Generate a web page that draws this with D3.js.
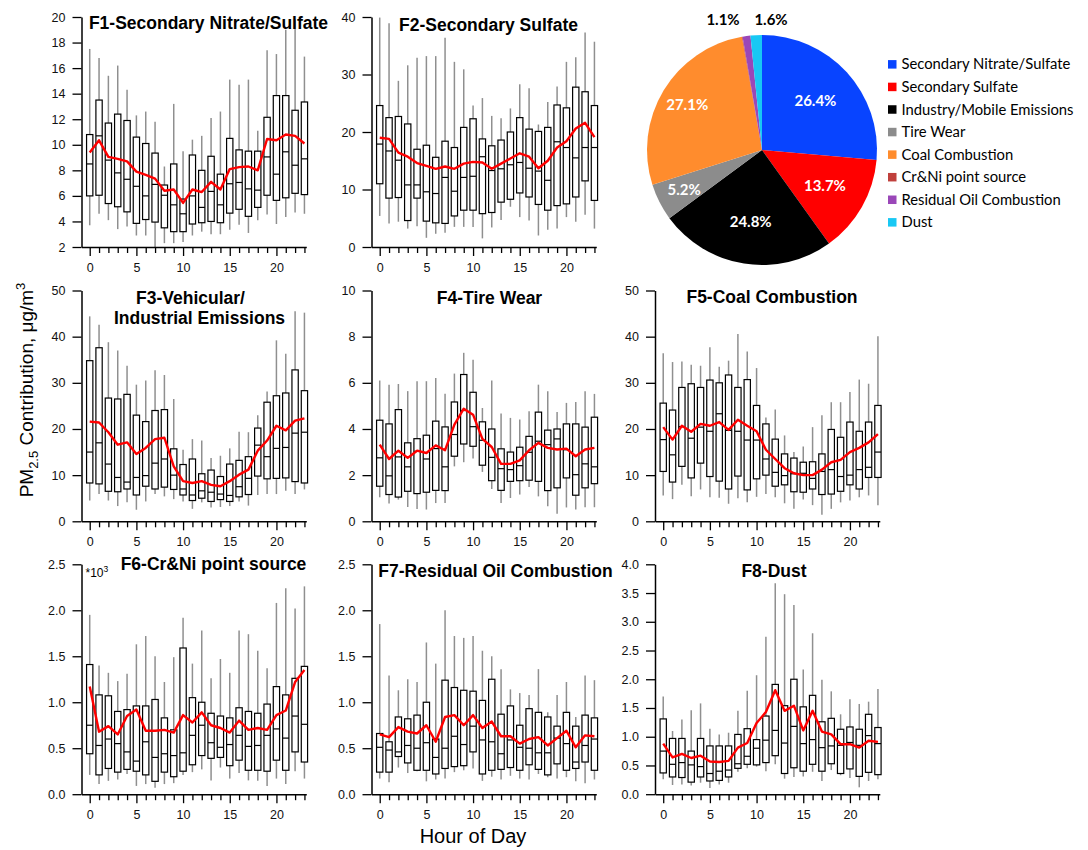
<!DOCTYPE html>
<html>
<head>
<meta charset="utf-8">
<script src="https://cdn.jsdelivr.net/npm/d3@7"></script>
<style>
  body { margin: 0; background: #fff; }
  svg { display: block; font-family: "Liberation Sans", Arial, sans-serif; }
</style>
</head>
<body>
<svg id="chart" width="1088" height="850"></svg>
<script>
// ---- data ----
const hours = [0,1,2,3,4,5,6,7,8,9,10,11,12,13,14,15,16,17,18,19,20,21,22,23];

// F1 Secondary Nitrate/Sulfate
const f1Low  = [3.7,4.6,4.1,3.4,3.6,2.9,2.9,2.0,2.3,2.3,2.4,2.9,3.2,3.0,3.0,3.35,3.75,3.1,4.1,4.55,3.8,4.35,4.7,4.6];
const f1Q1   = [6.0,6.05,5.4,5.15,4.75,3.85,4.15,3.95,3.5,3.2,3.2,3.8,3.9,4.0,3.9,4.65,4.95,4.4,5.1,6.05,5.65,5.85,6.2,6.1];
const f1Med  = [8.5,10.7,8.8,7.8,7.3,6.75,6.0,6.9,6.05,5.3,4.6,6.0,5.1,6.35,5.3,6.95,7.05,6.55,6.45,9.05,7.7,9.45,8.4,8.9];
const f1Q3   = [10.8,13.5,11.7,12.4,11.9,10.6,10.1,9.35,6.85,8.5,5.75,9.2,8.0,9.1,7.7,10.5,9.6,9.5,9.5,12.15,13.85,13.85,12.7,13.35];
const f1High = [17.5,16.8,15.4,16.2,14.3,12.3,12.6,11.8,8.3,13.2,9.5,10.4,10.7,12.1,12.6,15.1,14.7,15.1,11.1,17.4,17.1,19.0,19.8,16.9];
const f1Mean = [9.4,10.35,9.05,8.9,8.7,7.9,7.65,7.35,6.4,6.5,5.45,6.5,6.3,7.1,6.5,8.1,8.25,8.3,8.0,10.45,10.35,10.8,10.7,10.1];

// F2 Secondary Sulfate
const f2Low  = [5.4,4.1,4.4,3.2,3.6,1.6,2.3,2.5,3.5,3.5,3.5,1.5,3.4,4.7,7.0,5.2,4.6,2.0,3.0,3.2,5.2,4.4,5.6,3.2];
const f2Q1   = [11.0,8.5,8.6,4.6,8.5,4.5,4.2,4.1,5.4,6.4,6.4,5.8,6.0,7.8,8.3,9.4,8.7,7.4,6.4,7.2,7.5,8.7,11.5,8.1];
const f2Med  = [17.9,16.7,15.1,10.8,10.8,9.6,9.3,12.1,9.7,12.1,12.3,15.7,13.3,13.6,14.3,14.7,13.7,13.2,11.6,18.3,17.3,15.5,17.3,17.3];
const f2Q3   = [24.6,22.5,22.7,21.4,17.0,17.7,15.6,18.4,17.3,20.8,22.3,18.8,17.6,18.6,20.0,22.5,20.5,20.1,20.8,24.7,24.2,27.8,27.0,24.6];
const f2High = [39.9,38.9,28.9,31.6,32.9,33.2,33.2,36.4,32.2,30.9,24.6,25.9,22.8,22.4,24.1,28.3,27.6,21.3,25.2,27.9,32.2,33.0,37.3,35.7];
const f2Mean = [19.0,18.8,16.4,15.7,14.6,14.1,13.6,14.0,13.6,14.5,14.8,14.7,13.6,14.5,15.4,16.3,15.7,13.7,15.0,17.3,18.4,20.6,21.6,19.1];

// F3 Vehicular/Industrial Emissions
const f3Low  = [4.5,5.9,4.5,3.3,4.1,2.5,4.3,5.9,5.4,4.8,4.3,2.7,4.1,3.0,3.1,3.3,4.3,3.4,5.7,5.9,5.9,6.6,5.9,6.9];
const f3Q1   = [8.3,8.1,6.5,6.4,7.0,5.7,7.6,7.0,7.4,6.9,5.7,4.5,5.0,4.3,4.7,4.3,5.3,5.8,9.8,9.2,9.3,9.4,8.6,8.3];
const f3Med  = [15.0,17.0,12.4,9.5,8.5,9.5,9.9,12.6,13.5,10.0,7.0,5.7,6.6,6.3,5.9,5.6,7.5,9.3,16.5,14.0,15.8,16.0,19.1,19.3];
const f3Q3   = [34.8,37.6,26.7,26.5,27.5,23.0,21.6,24.0,24.2,15.7,12.3,13.5,10.3,11.1,9.7,12.4,13.2,14.0,20.2,25.8,27.2,27.8,32.8,28.3];
const f3High = [44.4,42.6,38.8,37.0,33.7,29.6,30.5,32.7,31.7,26.5,15.5,17.8,17.5,13.7,14.2,15.8,19.4,19.3,23.0,28.1,39.2,36.3,45.5,45.2];
const f3Mean = [21.6,21.4,19.3,16.6,17.1,14.6,15.9,17.8,18.1,11.9,8.7,8.3,8.7,7.9,7.6,8.7,10.1,11.2,15.3,17.5,20.7,19.7,21.8,22.3];

// F4 Tire Wear
const f4Low  = [1.04,0.77,0.94,0.62,0.53,0.51,0.79,0.79,2.38,2.56,2.72,2.14,1.4,0.79,1.01,1.16,1.49,1.08,0.65,0.33,0.6,0.51,0.61,0.61];
const f4Q1   = [1.52,1.16,1.05,1.3,1.2,1.26,1.34,1.33,2.82,3.35,3.25,2.43,1.76,1.34,1.73,1.76,1.78,1.73,1.33,1.45,1.88,1.13,1.45,1.63];
const f4Med  = [2.75,1.97,2.79,2.36,3.03,2.7,3.15,2.36,3.76,4.8,4.1,3.51,2.77,2.28,2.24,2.41,2.99,3.47,3.32,3.57,3.1,2.02,2.49,2.36];
const f4Q3   = [4.38,4.22,4.84,3.4,3.58,3.73,4.34,4.09,5.17,6.36,5.59,4.31,4.0,3.14,3.0,3.21,3.68,4.73,3.95,4.0,4.22,4.22,4.08,4.51];
const f4High = [6.1,5.92,5.95,5.64,6.07,6.07,6.21,5.53,6.4,7.3,7.0,4.91,6.1,4.67,4.48,4.41,4.77,5.92,5.64,4.74,5.13,5.17,5.64,5.52];
const f4Mean = [3.32,2.7,3.06,2.75,3.06,2.96,3.29,3.08,4.19,4.88,4.62,3.57,3.22,2.49,2.49,2.64,3.08,3.4,3.18,3.11,3.15,2.82,3.11,3.18];

// F5 Coal Combustion
const f5Low  = [5.6,4.8,7.9,5.4,6.9,5.2,5.1,3.8,5.0,4.1,5.3,5.9,5.2,3.9,2.7,4.7,3.5,1.4,2.7,4.1,4.5,5.2,5.6,3.5];
const f5Q1   = [10.8,8.5,11.9,9.4,12.6,9.7,8.7,7.0,9.8,6.8,9.2,10.0,7.6,7.9,6.4,6.3,7.0,5.8,5.9,6.5,7.9,7.0,9.5,9.5];
const f5Med  = [17.7,14.4,20.5,18.0,20.4,19.5,23.3,19.7,19.5,17.6,17.6,13.5,10.6,9.9,10.3,10.4,9.3,10.8,11.2,9.7,10.0,11.2,11.7,15.0];
const f5Q3   = [25.6,24.1,29.0,29.8,29.0,30.6,30.0,31.7,29.0,30.7,25.1,21.1,17.8,14.6,13.7,12.8,12.9,14.6,19.9,18.2,21.5,19.5,21.5,25.1];
const f5High = [36.4,34.5,34.6,33.9,33.7,37.7,33.5,34.8,40.6,36.8,33.2,22.5,24.2,18.6,15.0,16.2,20.4,23.0,25.8,25.8,28.0,30.7,29.8,40.1];
const f5Mean = [20.4,17.7,20.7,19.4,21.1,20.7,21.5,19.8,22.0,20.7,19.5,15.5,13.5,11.5,10.4,10.0,10.0,11.2,12.8,13.3,15.0,15.9,17.1,18.9];

// F6 Cr&Ni point source (*10^3)
const f6Low  = [0.21,0.11,0.145,0.16,0.22,0.09,0.11,0.07,0.11,0.12,0.21,0.24,0.27,0.15,0.29,0.17,0.23,0.15,0.145,0.09,0.17,0.11,0.25,0.17];
const f6Q1   = [0.44,0.21,0.28,0.24,0.27,0.25,0.21,0.14,0.24,0.19,0.25,0.32,0.42,0.39,0.40,0.31,0.37,0.26,0.26,0.25,0.37,0.26,0.46,0.35];
const f6Med  = [0.75,0.53,0.6,0.55,0.46,0.36,0.57,0.40,0.44,0.42,0.45,0.64,0.75,0.56,0.51,0.54,0.64,0.52,0.53,0.64,0.71,0.61,0.85,0.76];
const f6Q3   = [1.41,1.08,1.07,0.90,0.92,0.96,0.96,1.03,0.83,0.70,1.59,1.05,1.00,0.88,0.85,0.83,0.94,0.90,0.88,0.98,1.17,1.08,1.26,1.39];
const f6High = [1.95,1.40,1.32,1.23,1.31,1.63,1.72,1.50,1.22,1.49,1.92,1.42,1.78,1.26,1.47,1.32,1.78,1.74,1.56,1.37,2.08,2.24,2.02,2.26];
const f6Mean = [1.17,0.68,0.74,0.65,0.85,0.92,0.69,0.69,0.70,0.67,0.86,0.78,0.89,0.75,0.72,0.67,0.80,0.70,0.72,0.70,0.86,0.91,1.22,1.35];

// F7 Residual Oil Combustion
const f7Low  = [0.17,0.13,0.29,0.23,0.25,0.14,0.16,0.17,0.24,0.26,0.28,0.145,0.19,0.16,0.20,0.17,0.16,0.22,0.185,0.17,0.185,0.14,0.12,0.16];
const f7Q1   = [0.24,0.24,0.41,0.34,0.26,0.26,0.22,0.28,0.30,0.31,0.46,0.22,0.26,0.27,0.29,0.26,0.32,0.27,0.21,0.33,0.26,0.28,0.35,0.26];
const f7Med  = [0.51,0.48,0.46,0.53,0.50,0.56,0.40,0.50,0.63,0.54,0.74,0.59,0.57,0.44,0.59,0.51,0.50,0.45,0.45,0.61,0.55,0.35,0.53,0.60];
const f7Q3   = [0.66,0.57,0.84,0.82,0.86,1.00,0.60,1.24,1.16,1.13,1.12,1.02,1.25,0.87,0.96,0.75,0.93,0.89,0.84,0.74,0.89,0.74,0.86,0.83];
const f7High = [1.85,1.29,1.13,1.25,1.22,1.65,1.42,2.0,1.72,1.70,1.72,1.56,1.50,1.36,1.14,1.10,1.08,1.36,0.89,1.08,1.22,0.84,1.29,1.24];
const f7Mean = [0.65,0.62,0.73,0.68,0.66,0.75,0.57,0.84,0.86,0.75,0.86,0.72,0.79,0.63,0.63,0.55,0.60,0.62,0.53,0.61,0.69,0.51,0.64,0.63];

// F8 Dust
const f8Low  = [0.26,0.16,0.17,0.15,0.20,0.11,0.17,0.20,0.39,0.45,0.48,0.40,0.52,0.27,0.30,0.31,0.39,0.23,0.42,0.33,0.28,0.12,0.23,0.26];
const f8Q1   = [0.37,0.30,0.29,0.21,0.30,0.23,0.24,0.30,0.45,0.52,0.51,0.55,0.67,0.36,0.46,0.40,0.52,0.40,0.53,0.36,0.44,0.31,0.38,0.34];
const f8Med  = [0.75,0.52,0.55,0.51,0.48,0.36,0.40,0.42,0.53,0.66,0.80,0.94,1.11,0.89,1.18,0.88,0.95,0.81,0.84,0.85,0.90,0.85,1.02,0.88];
const f8Q3   = [1.31,0.97,0.97,0.75,0.97,0.84,0.84,0.84,1.04,1.14,0.95,1.36,1.91,1.54,2.0,1.52,1.72,1.26,1.32,1.13,1.17,1.13,1.39,1.16];
const f8High = [1.70,1.10,1.30,1.46,1.58,1.14,1.04,1.07,1.45,1.80,2.07,2.74,3.67,3.48,3.29,2.17,2.80,1.99,1.79,1.39,1.65,1.57,1.61,1.83];
const f8Mean = [0.88,0.64,0.70,0.63,0.67,0.57,0.56,0.58,0.81,0.89,1.24,1.43,1.81,1.45,1.54,1.11,1.45,1.09,1.04,0.87,0.87,0.81,0.93,0.91];

// pie
const sourceNames  = ["Secondary Nitrate/Sulfate", "Secondary Sulfate", "Industry/Mobile Emissions", "Tire Wear",
                      "Coal Combustion", "Cr&Ni point source", "Residual Oil Combustion", "Dust"];
const sourceShares = [26.4, 13.7, 24.8, 5.2, 27.1, 0.1, 1.1, 1.6];
const sourceColors = ["#0844ff", "#ff0000", "#000000", "#8c8c8c", "#ff8c2d", "#c0403c", "#9a47b8", "#18c8f4"];

// ---- layout ----
const svg = d3.select("#chart");
const colX = [81.5, 371.5, 655];
const rowY = [[17, 247], [290.5, 521.3], [564.3, 794.2]];
const plotW = 224.8;

const panels = [
  { title: ["F1-Secondary Nitrate/Sulfate"], tx: [127], ty: [29], col: 0, row: 0,
    low: f1Low, q1: f1Q1, med: f1Med, q3: f1Q3, high: f1High, mean: f1Mean,
    domain: [2, 20], ticks: [2,4,6,8,10,12,14,16,18,20], fmt: d3.format("d") },
  { title: ["F2-Secondary Sulfate"], tx: [117], ty: [31], col: 1, row: 0,
    low: f2Low, q1: f2Q1, med: f2Med, q3: f2Q3, high: f2High, mean: f2Mean,
    domain: [0, 40], ticks: [0,10,20,30,40], fmt: d3.format("d") },
  { title: ["F3-Vehicular/", "Industrial Emissions"], tx: [109, 118], ty: [304, 324], col: 0, row: 1,
    low: f3Low, q1: f3Q1, med: f3Med, q3: f3Q3, high: f3High, mean: f3Mean,
    domain: [0, 50], ticks: [0,10,20,30,40,50], fmt: d3.format("d") },
  { title: ["F4-Tire Wear"], tx: [118], ty: [304], col: 1, row: 1,
    low: f4Low, q1: f4Q1, med: f4Med, q3: f4Q3, high: f4High, mean: f4Mean,
    domain: [0, 10], ticks: [0,2,4,6,8,10], fmt: d3.format("d") },
  { title: ["F5-Coal Combustion"], tx: [117], ty: [303], col: 2, row: 1,
    low: f5Low, q1: f5Q1, med: f5Med, q3: f5Q3, high: f5High, mean: f5Mean,
    domain: [0, 50], ticks: [0,10,20,30,40,50], fmt: d3.format("d") },
  { title: ["F6-Cr&Ni point source"], tx: [132], ty: [570], col: 0, row: 2,
    low: f6Low, q1: f6Q1, med: f6Med, q3: f6Q3, high: f6High, mean: f6Mean,
    domain: [0, 2.5], ticks: [0,0.5,1,1.5,2,2.5], fmt: d3.format(".1f"), scaleNote: true },
  { title: ["F7-Residual Oil Combustion"], tx: [124], ty: [577], col: 1, row: 2,
    low: f7Low, q1: f7Q1, med: f7Med, q3: f7Q3, high: f7High, mean: f7Mean,
    domain: [0, 2.5], ticks: [0,0.5,1,1.5,2,2.5], fmt: d3.format(".1f") },
  { title: ["F8-Dust"], tx: [119], ty: [577], col: 2, row: 2,
    low: f8Low, q1: f8Q1, med: f8Med, q3: f8Q3, high: f8High, mean: f8Mean,
    domain: [0, 4], ticks: [0,0.5,1,1.5,2,2.5,3,3.5,4], fmt: d3.format(".1f") }
];

panels.forEach(drawPanel);

function drawPanel(p) {
  const g = svg.append("g").attr("transform", `translate(${colX[p.col]},0)`);
  const top = rowY[p.row][0], bottom = rowY[p.row][1];

  const x = d3.scaleLinear().domain([-0.88, 23.2]).range([0, plotW]);
  const y = d3.scaleLinear().domain(p.domain).range([bottom, top]);
  const boxW = 6.3;

  // whiskers
  g.selectAll(".whisker").data(hours).enter().append("line")
    .attr("class", "whisker")
    .attr("x1", h => x(h)).attr("x2", h => x(h))
    .attr("y1", h => y(p.high[h])).attr("y2", h => y(p.low[h]))
    .attr("stroke", "#8f8f8f").attr("stroke-width", 1.5);

  // boxes
  g.selectAll(".box").data(hours).enter().append("rect")
    .attr("class", "box")
    .attr("x", h => x(h) - boxW / 2)
    .attr("y", h => y(p.q3[h]))
    .attr("width", boxW)
    .attr("height", h => y(p.q1[h]) - y(p.q3[h]))
    .attr("fill", "#fff").attr("stroke", "#000").attr("stroke-width", 1.2);

  // medians
  g.selectAll(".median").data(hours).enter().append("line")
    .attr("class", "median")
    .attr("x1", h => x(h) - boxW / 2).attr("x2", h => x(h) + boxW / 2)
    .attr("y1", h => y(p.med[h])).attr("y2", h => y(p.med[h]))
    .attr("stroke", "#000").attr("stroke-width", 1.2);

  // mean line
  const line = d3.line().x(h => x(h)).y(h => y(p.mean[h]));
  g.append("path").datum(hours)
    .attr("d", line)
    .attr("fill", "none").attr("stroke", "#ff0000").attr("stroke-width", 2.4)
    .attr("stroke-linejoin", "round");

  // axes
  const xAxis = d3.axisBottom(x).tickValues(hours).tickSize(9).tickSizeOuter(0).tickPadding(7)
    .tickFormat(d => d % 5 === 0 ? d : "");
  const xAxisG = g.append("g").attr("transform", `translate(0,${bottom})`).call(xAxis);
  xAxisG.selectAll(".tick line").attr("y2", d => d % 5 === 0 ? 9 : 6);

  const yAxis = d3.axisLeft(y).tickValues(p.ticks).tickSize(9).tickSizeOuter(0).tickPadding(7)
    .tickFormat(p.fmt);
  const yAxisG = g.append("g").call(yAxis);

  [xAxisG, yAxisG].forEach(a => {
    a.attr("font-family", null).attr("font-size", 12.5);
    a.select(".domain").attr("stroke-width", 1.5);
    a.selectAll(".tick line").attr("stroke-width", 1.3);
    a.selectAll(".tick text").attr("fill", "#111");
  });

  // title
  p.title.forEach((t, i) => {
    g.append("text")
      .attr("x", p.tx[i]).attr("y", p.ty[i])
      .attr("text-anchor", "middle")
      .attr("font-size", 17.5).attr("font-weight", "bold")
      .text(t);
  });

  if (p.scaleNote) {
    const note = g.append("text").attr("x", 4).attr("y", top + 12.5).attr("font-size", 12);
    note.append("tspan").text("*10");
    note.append("tspan").attr("dy", -5).attr("font-size", 8.5).text("3");
  }
}

// axis titles
const yLab = svg.append("text")
  .attr("transform", "translate(33,390) rotate(-90)")
  .attr("text-anchor", "middle")
  .attr("font-size", 19);
yLab.append("tspan").text("PM");
yLab.append("tspan").attr("dy", 5).attr("font-size", 13).text("2.5");
yLab.append("tspan").attr("dy", -5).text(" Contribution, μg/m");
yLab.append("tspan").attr("dy", -8).attr("font-size", 13).text("3");

svg.append("text")
  .attr("x", 473).attr("y", 843)
  .attr("text-anchor", "middle")
  .attr("font-size", 20)
  .text("Hour of Day");

// ---- pie ----
const cx = 762, cy = 150, radius = 115;
const pieG = svg.append("g").attr("transform", `translate(${cx},${cy})`);
const pie = d3.pie().sort(null).value(d => d);
const arcs = pie(sourceShares);
const arc = d3.arc().innerRadius(0).outerRadius(radius);

pieG.selectAll("path").data(arcs).enter().append("path")
  .attr("d", arc)
  .attr("fill", (d, i) => sourceColors[i]);

const pctFont = '"Lato", "Open Sans", sans-serif';
// inner labels for large slices
arcs.forEach((d, i) => {
  if (d.data < 3) return;
  const r = i < 3 ? radius * 0.63 : radius * 0.76;
  const a = (d.startAngle + d.endAngle) / 2;
  pieG.append("text")
    .attr("x", Math.sin(a) * r).attr("y", -Math.cos(a) * r)
    .attr("dy", "0.36em")
    .attr("text-anchor", "middle")
    .attr("font-family", pctFont).attr("font-weight", "bold").attr("font-size", 15)
    .attr("fill", "#fff")
    .text(d3.format(".1f")(d.data) + "%");
});
// small slices labelled above the pie, side by side
const smallOffsets = { 6: -39, 7: 9 };
arcs.forEach((d, i) => {
  if (!(i in smallOffsets)) return;
  pieG.append("text")
    .attr("x", smallOffsets[i]).attr("y", -radius - 10)
    .attr("text-anchor", "middle")
    .attr("font-family", pctFont).attr("font-weight", "bold").attr("font-size", 15)
    .attr("fill", "#000")
    .text(d3.format(".1f")(d.data) + "%");
});

// legend
const legend = svg.append("g").attr("transform", "translate(888,64.3)");
const legendRows = legend.selectAll("g").data(sourceNames).enter().append("g")
  .attr("transform", (d, i) => `translate(0,${i * 22.57})`);
legendRows.append("rect")
  .attr("x", 0).attr("y", -4.2).attr("width", 8.5).attr("height", 8.5)
  .attr("fill", (d, i) => sourceColors[i]);
legendRows.append("text")
  .attr("x", 13.5).attr("dy", "0.35em")
  .attr("font-family", pctFont).attr("font-size", 14.8)
  .attr("fill", "#000")
  .text(d => d);
</script>
</body>
</html>
